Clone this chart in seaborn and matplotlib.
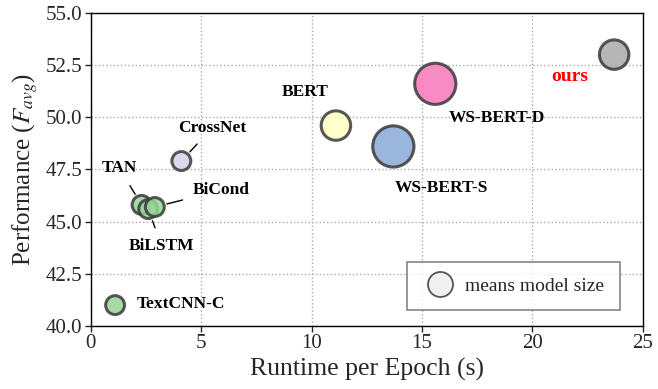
import pandas as pd
import numpy as np
import matplotlib
matplotlib.use("Agg")
import matplotlib.pyplot as plt
import seaborn as sns
from matplotlib.lines import Line2D

# data
models = ["TextCNN-C", "TAN", "BiLSTM", "BiCond", "CrossNet", "BERT", "WS-BERT-S", "WS-BERT-D", "ours"]
runtime = [1.1, 2.3, 2.6, 2.9, 4.1, 11.1, 13.7, 15.6, 23.7]
perf = [41.0, 45.8, 45.6, 45.7, 47.9, 49.6, 48.6, 51.6, 53.0]
model_size = [185, 185, 185, 185, 185, 450, 880, 880, 450]
colors = ["#98d498", "#98d498", "#98d498", "#98d498", "#d8d2ec",
          "#ffffc4", "#88aad6", "#f777ba", "#aaaaaa"]

# label positions (data coords) and whether a leader line is drawn
label_x = [4.1, 1.3, 3.2, 5.9, 5.5, 9.7, 15.9, 18.4, 21.7]
label_y = [41.06, 47.55, 43.85, 46.5, 49.5, 51.2, 46.6, 49.95, 51.95]
leader = [False, True, True, True, True, False, False, False, False]

df = pd.DataFrame({"model": models, "runtime": runtime, "perf": perf})

sns.set_style("white")
plt.rcParams["font.family"] = ["Liberation Serif", "DejaVu Serif"]
plt.rcParams["mathtext.fontset"] = "stix"

fig = plt.figure(figsize=(6.58, 3.89), dpi=100)
ax = fig.add_axes([0.138, 0.162, 0.839, 0.805])

sns.scatterplot(data=df, x="runtime", y="perf", hue="model", size="model",
                palette=dict(zip(models, colors)), sizes=dict(zip(models, model_size)),
                edgecolor="#3a3a3a", linewidth=2.2, alpha=0.85, legend=False, ax=ax, zorder=3)

for i, m in enumerate(models):
    col = "red" if m == "ours" else "black"
    fs = 14 if m == "ours" else 12.5
    if leader[i]:
        ax.annotate(m, xy=(runtime[i], perf[i]), xytext=(label_x[i], label_y[i]),
                    ha="center", va="center", fontsize=fs, fontweight="bold", color=col,
                    arrowprops=dict(arrowstyle="-", color="black", lw=1, shrinkA=5, shrinkB=9))
    else:
        ax.text(label_x[i], label_y[i], m, ha="center", va="center",
                fontsize=fs, fontweight="bold", color=col)

ax.set_xlim(0, 25)
ax.set_ylim(40, 55)
ax.set_xticks([0, 5, 10, 15, 20, 25])
ax.set_yticks(np.arange(40, 55.1, 2.5))
ax.set_yticklabels([f"{v:.1f}" for v in np.arange(40, 55.1, 2.5)])
ax.grid(True, linestyle=":", color="#aaaaaa", linewidth=1)
ax.tick_params(axis="both", labelsize=15, direction="out", length=4, width=1, left=True, bottom=True, pad=2)
for s in ax.spines.values():
    s.set_color("black")
    s.set_linewidth(1)
ax.set_xlabel("Runtime per Epoch (s)", fontsize=18.5, labelpad=3)
ax.set_ylabel("Performance ($F_{avg}$)", fontsize=18, labelpad=4)

handle = Line2D([], [], marker="o", linestyle="none", markersize=18,
                markerfacecolor="#f0f0f2", markeredgecolor="#555555", markeredgewidth=1.3)
leg = ax.legend([handle], ["means model size"], loc="lower right",
                bbox_to_anchor=(0.958, 0.05), borderaxespad=0, fontsize=14, fancybox=False,
                frameon=True, borderpad=0.8, handletextpad=0.4, handlelength=1.8)
leg.get_frame().set_edgecolor("#666666")
leg.get_frame().set_linewidth(1.2)

plt.savefig("out.png", dpi=100)
